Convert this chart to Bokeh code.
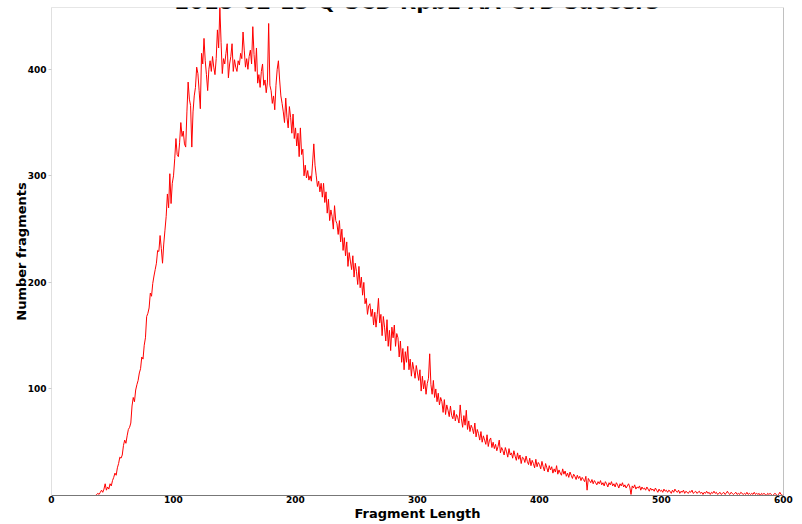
import math
from bokeh.plotting import figure
from bokeh.models import Range1d, FixedTicker, Label, Span
from bokeh.embed import file_html
from bokeh.resources import INLINE

title_text = "2018-02-13-Q-SCD Rpb1 AA-CTD SacCer3"
x_label = "Fragment Length"
y_label = "Number fragments"
x_ticks = [0, 100, 200, 300, 400, 500, 600]
y_ticks = [100, 200, 300, 400]

fragment_length = list(range(0, 601))
counts = (
    [0] * 10 + [0] * 10 + [0] * 10 +
    [0, 0, 0, 0, 0, 0, 0, 1, 2, 1] +
    [3, 5, 3, 6, 11, 5, 8, 6, 11, 9] +
    [14, 17, 21, 19, 26, 30, 36, 35, 38, 47] +
    [52, 49, 56, 62, 64, 68, 84, 92, 88, 99] +
    [104, 108, 115, 119, 130, 128, 141, 148, 168, 171] +
    [176, 190, 187, 199, 206, 212, 218, 230, 229, 244] +
    [232, 218, 236, 249, 262, 283, 270, 302, 274, 293] +
    [300, 316, 335, 320, 318, 331, 350, 337, 342, 330] +
    [327, 360, 388, 372, 366, 327, 360, 375, 383, 402] +
    [396, 380, 363, 415, 405, 429, 408, 395, 380, 400] +
    [408, 398, 412, 402, 395, 410, 437, 420, 458, 425] +
    [396, 410, 405, 415, 424, 392, 405, 412, 424, 398] +
    [409, 402, 398, 408, 404, 415, 410, 435, 418, 402] +
    [410, 400, 412, 418, 405, 440, 414, 398, 420, 387] +
    [395, 383, 398, 405, 385, 390, 378, 388, 443, 385] +
    [380, 368, 375, 362, 385, 400, 408, 390, 375, 368] +
    [360, 350, 373, 355, 345, 365, 355, 340, 358, 335] +
    [345, 328, 340, 318, 345, 320, 325, 300, 310, 298] +
    [305, 296, 300, 295, 312, 330, 310, 300, 290, 295] +
    [285, 293, 280, 293, 275, 285, 265, 278, 258, 268] +
    [262, 250, 272, 258, 255, 245, 258, 238, 250, 230] +
    [242, 225, 238, 215, 228, 220, 212, 225, 205, 218] +
    [210, 198, 215, 195, 205, 188, 200, 180, 185, 170] +
    [178, 180, 168, 175, 160, 172, 158, 170, 185, 162] +
    [170, 150, 168, 158, 145, 165, 140, 155, 136, 158] +
    [148, 160, 140, 152, 148, 130, 145, 125, 138, 118] +
    [135, 125, 140, 118, 128, 112, 125, 118, 110, 122] +
    [115, 108, 118, 98, 112, 100, 108, 95, 105, 110] +
    [133, 104, 95, 108, 92, 100, 88, 96, 85, 92] +
    [88, 78, 90, 76, 85, 80, 74, 84, 75, 72] +
    [80, 70, 76, 73, 68, 85, 72, 64, 75, 66] +
    [80, 62, 70, 60, 66, 63, 58, 68, 55, 62] +
    [58, 52, 60, 50, 56, 52, 48, 57, 46, 52] +
    [54, 45, 50, 44, 48, 42, 46, 52, 40, 45] +
    [42, 38, 45, 41, 36, 44, 38, 40, 35, 42] +
    [37, 33, 40, 34, 38, 30, 36, 35, 31, 37] +
    [32, 29, 35, 28, 33, 30, 26, 34, 27, 31] +
    [29, 25, 32, 27, 23, 30, 26, 22, 28, 24] +
    [27, 21, 25, 22, 28, 20, 24, 21, 19, 25] +
    [20, 23, 18, 21, 17, 22, 19, 16, 20, 18] +
    [15, 19, 16, 18, 14, 17, 15, 13, 18, 5] +
    [16, 14, 12, 15, 11, 14, 12, 10, 13, 11] +
    [14, 10, 12, 9, 13, 11, 8, 12, 10, 13] +
    [9, 11, 8, 12, 10, 7, 11, 9, 12, 8] +
    [10, 7, 9, 11, 8, 1, 9, 7, 10, 6] +
    [8, 7, 9, 5, 8, 6, 7, 5, 8, 6] +
    [4, 7, 5, 6, 4, 7, 5, 3, 6, 4] +
    [5, 3, 6, 4, 5, 3, 5, 4, 2, 5] +
    [3, 6, 4, 3, 5, 2, 4, 3, 5, 2] +
    [4, 3, 2, 4, 3, 5, 2, 3, 4, 2] +
    [3, 4, 2, 3, 1, 3, 2, 4, 2, 3] +
    [1, 3, 2, 4, 2, 3, 1, 2, 3, 1] +
    [2, 3, 1, 2, 4, 2, 1, 3, 2, 1] +
    [2, 3, 1, 2, 1, 3, 2, 1, 2, 1] +
    [3, 1, 2, 1, 2, 1, 3, 1, 2, 1] +
    [2, 0, 2, 1, 2, 1, 0, 2, 1, 2] +
    [1, 0, 1, 2, 1, 0, 1, 3, 1, 0] +
    [1]
)

FONT = "DejaVu Sans"
ymax = max(counts)

p = figure(
    width=802, height=524,
    x_range=Range1d(0, 600), y_range=Range1d(0, ymax),
    output_backend="svg", toolbar_location=None, title=None,
    min_border_left=51, min_border_right=19, min_border_top=7, min_border_bottom=29,
)
p.background_fill_color = "white"
p.border_fill_color = "white"
p.outline_line_color = "#e6e6e6"
p.grid.visible = False

p.line(fragment_length, counts, line_color="red", line_width=1)

p.add_layout(Span(location=600, dimension="height", line_color="#999999", line_width=1))

p.xaxis.ticker = FixedTicker(ticks=x_ticks)
p.yaxis.ticker = FixedTicker(ticks=y_ticks)
for ax in (p.xaxis, p.yaxis):
    ax.major_label_text_font = FONT
    ax.major_label_text_font_style = "bold"
    ax.major_label_text_font_size = "9px"
    ax.major_label_text_color = "black"
    ax.minor_tick_line_color = None
    ax.axis_label_text_font = FONT
    ax.axis_label_text_font_style = "bold"
    ax.axis_label_text_font_size = "13px"
    ax.axis_label_text_color = "black"
p.xaxis.axis_label = x_label
p.yaxis.axis_label = y_label
p.xaxis.axis_line_color = "#777777"
p.xaxis.major_tick_line_color = None
p.xaxis.major_tick_out = 0
p.xaxis.major_tick_in = 0
p.xaxis.major_label_standoff = 0
p.xaxis.axis_label_standoff = 0
p.yaxis.axis_line_color = "#e0e0e0"
p.yaxis.major_tick_line_color = "#cccccc"
p.yaxis.major_tick_out = 3
p.yaxis.major_tick_in = 0
p.yaxis.major_label_standoff = 2
p.yaxis.axis_label_standoff = -4

p.add_layout(Label(x=300, y=ymax, y_offset=6, text=title_text, text_font=FONT,
                   text_font_style="bold", text_font_size="21px", text_align="center",
                   text_baseline="alphabetic", text_color="black"))

open("out.html", "w").write(file_html(p, INLINE))
